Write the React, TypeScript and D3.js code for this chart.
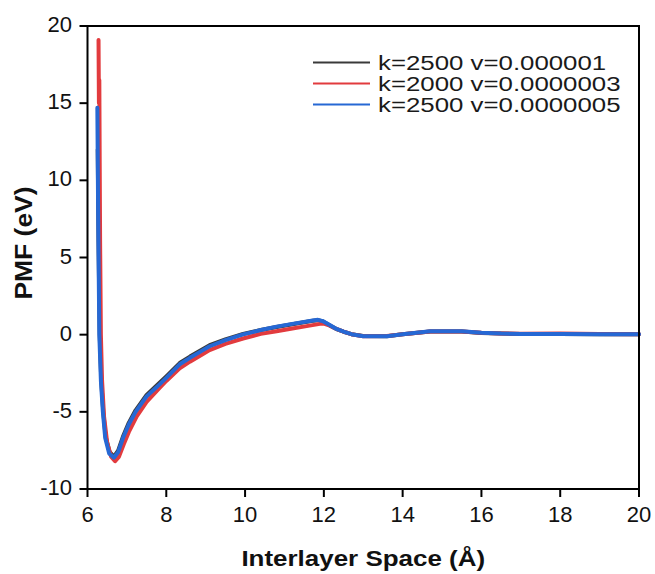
import React from "react";
import * as d3 from "d3";

const xTicks = [6, 8, 10, 12, 14, 16, 18, 20];
const yTicks = [-10, -5, 0, 5, 10, 15, 20];

const seriesNames = ["k=2500 v=0.000001", "k=2000 v=0.0000003", "k=2500 v=0.0000005"];
const seriesColors = ["#3a3a3a", "#e23b3e", "#2668d4"];

const blackX = [6.26, 6.28, 6.31, 6.35, 6.40, 6.46, 6.56, 6.67, 6.78, 6.90, 7.05, 7.22, 7.5, 7.83, 8.0, 8.34, 8.6, 8.9, 9.1, 9.5, 9.95, 10.4, 10.8, 11.2, 11.72, 11.85, 11.98, 12.15, 12.32, 12.5, 12.7, 13.0, 13.6, 14.0, 14.7, 15.5, 16.0, 16.5, 17, 18, 19, 20];
const blackY = [12, 6, 0, -3, -5, -6.6, -7.6, -7.9, -7.5, -6.6, -5.7, -4.9, -3.9, -3.12, -2.7, -1.84, -1.42, -0.98, -0.68, -0.3, 0.05, 0.3, 0.5, 0.68, 0.9, 0.94, 0.86, 0.6, 0.36, 0.19, 0.03, -0.09, -0.1, 0.02, 0.21, 0.21, 0.11, 0.07, 0.05, 0.05, 0.03, 0.03];

const redX = [6.28, 6.29, 6.30, 6.31, 6.32, 6.34, 6.37, 6.42, 6.5, 6.6, 6.70, 6.8, 6.92, 7.05, 7.25, 7.5, 7.83, 8.0, 8.34, 8.6, 8.9, 9.1, 9.5, 9.95, 10.4, 10.8, 11.2, 11.6, 11.9, 12.0, 12.15, 12.32, 12.5, 12.7, 13.0, 13.6, 14.0, 14.7, 15.5, 16.0, 16.5, 17, 18, 19, 20];
const redY = [19.1, 15, 16.5, 11, 6, 0, -3, -5.3, -7.0, -7.9, -8.2, -7.9, -7.1, -6.3, -5.3, -4.35, -3.45, -3.0, -2.18, -1.75, -1.3, -1.0, -0.6, -0.25, 0.05, 0.22, 0.4, 0.57, 0.70, 0.72, 0.58, 0.37, 0.2, 0.03, -0.1, -0.08, 0.03, 0.2, 0.2, 0.12, 0.08, 0.06, 0.08, 0.04, 0.03];

const blueX = [6.25, 6.27, 6.30, 6.34, 6.39, 6.45, 6.55, 6.67, 6.78, 6.90, 7.05, 7.22, 7.5, 7.83, 8.0, 8.34, 8.6, 8.9, 9.1, 9.5, 9.95, 10.4, 10.8, 11.2, 11.72, 11.85, 11.98, 12.15, 12.32, 12.5, 12.7, 13.0, 13.6, 14.0, 14.7, 15.5, 16.0, 16.5, 17, 18, 19, 20];
const blueY = [14.7, 8, 0, -3, -5, -6.7, -7.7, -7.97, -7.6, -6.7, -5.8, -5.0, -4.0, -3.22, -2.8, -1.92, -1.5, -1.05, -0.75, -0.35, 0.02, 0.3, 0.52, 0.7, 0.92, 0.96, 0.87, 0.62, 0.37, 0.2, 0.03, -0.1, -0.1, 0.02, 0.22, 0.22, 0.12, 0.07, 0.05, 0.05, 0.03, 0.03];

const W = 655;
const H = 574;
const left = 87.5;
const right = 639;
const top = 26;
const bottom = 489;

export default function App() {
  const x = d3.scaleLinear().domain([6, 20]).range([left, right]);
  const y = d3.scaleLinear().domain([-10, 20]).range([bottom, top]);
  const line = d3
    .line<[number, number]>()
    .x((d) => x(d[0]))
    .y((d) => y(d[1]))
    .curve(d3.curveLinear);

  const series = [
    blackX.map((v, i) => [v, blackY[i]] as [number, number]),
    redX.map((v, i) => [v, redY[i]] as [number, number]),
    blueX.map((v, i) => [v, blueY[i]] as [number, number]),
  ];

  const font = "Arial, 'Liberation Sans', Helvetica, sans-serif";

  return (
    <svg
      width={W}
      height={H}
      style={{ position: "absolute", left: 0, top: 0, background: "#fff" }}
      fontFamily={font}
    >
      <rect x={0} y={0} width={W} height={H} fill="#fff" />
      {series.map((s, i) => (
        <path
          key={i}
          d={line(s) || ""}
          fill="none"
          stroke={seriesColors[i]}
          strokeWidth={4}
          strokeLinejoin="round"
          strokeLinecap="round"
        />
      ))}
      {/* frame */}
      <rect
        x={left}
        y={top}
        width={right - left}
        height={bottom - top}
        fill="none"
        stroke="#000"
        strokeWidth={2}
      />
      {/* x ticks */}
      {xTicks.map((t) => (
        <g key={"x" + t}>
          <line x1={x(t)} x2={x(t)} y1={bottom} y2={bottom + 8} stroke="#000" strokeWidth={2} />
          <text x={x(t)} y={522} textAnchor="middle" fontSize={22} fill="#111">
            {t}
          </text>
        </g>
      ))}
      {/* y ticks */}
      {yTicks.map((t) => (
        <g key={"y" + t}>
          <line x1={left - 8} x2={left} y1={y(t)} y2={y(t)} stroke="#000" strokeWidth={2} />
          <text x={72} y={y(t) + 6} textAnchor="end" fontSize={22} fill="#111">
            {t}
          </text>
        </g>
      ))}
      {/* axis titles */}
      <text
        transform={`translate(${(left + right) / 2}, 566) scale(1.18,1)`}
        textAnchor="middle"
        fontSize={22}
        fontWeight="bold"
        fill="#111"
      >
        Interlayer Space (Å)
      </text>
      <text
        transform={`translate(32, 243) rotate(-90) scale(1.15,1)`}
        textAnchor="middle"
        fontSize={23}
        fontWeight="bold"
        fill="#111"
      >
        PMF (eV)
      </text>
      {/* legend */}
      {seriesNames.map((n, i) => {
        const ly = 62.5 + i * 21;
        return (
          <g key={n}>
            <line x1={313} x2={370} y1={ly} y2={ly} stroke={seriesColors[i]} strokeWidth={2} />
            <text
              transform={`translate(378, ${ly + 7.5}) scale(1.26,1)`}
              fontSize={20.5}
              fill="#1a1a1a"
            >
              {n}
            </text>
          </g>
        );
      })}
    </svg>
  );
}
